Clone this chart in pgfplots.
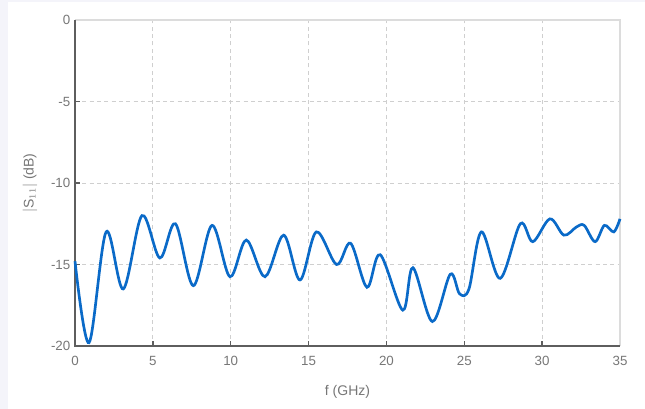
\documentclass[border=0pt]{standalone}
\usepackage{pgfplots}
\pgfplotsset{compat=1.18}
\usepackage{fontspec}
\setmainfont{Liberation Sans}
\definecolor{panelbg}{HTML}{F4F4FA}
\definecolor{spine}{HTML}{5E5E5E}
\definecolor{spinelight}{HTML}{DCDCDC}
\definecolor{gridc}{HTML}{CFCFCF}
\definecolor{ticklab}{HTML}{777777}
\definecolor{curve}{HTML}{0A6AC8}
\begin{document}
\begin{tikzpicture}[x=0.75pt,y=0.75pt]
% page background with a faint frame strip on the left and top
\fill[panelbg] (0,0) rectangle (645,409);
\fill[white] (8,0) rectangle (645,407);
\begin{axis}[
  at={(75*0.75pt,63*0.75pt)}, anchor=south west,
  scale only axis,
  width=545*0.75pt, height=326*0.75pt,
  xmin=0, xmax=35, ymin=-20, ymax=0,
  xtick={0,5,...,35}, ytick={-20,-15,...,0},
  xtick pos=left, ytick pos=left,
  tick align=inside,
  major tick length=4pt,
  tick style={spine, line width=1pt},
  axis line style={draw=none},
  grid=major,
  grid style={gridc, dashed, line width=0.7pt, dash pattern=on 3pt off 2.5pt},
  ticklabel style={font=\fontsize{10}{12}\selectfont, text=ticklab},
  xticklabel style={yshift=-4pt},
  /pgf/number format/assume math mode=true,
  xlabel={f (GHz)},
  ylabel={$|$S$_{11}|$ (dB)},
  label style={font=\fontsize{10.5}{12}\selectfont, text=ticklab},
  xlabel style={yshift=-8pt},
  ylabel style={yshift=3.5pt},
  clip=false,
]
% frame: light top/right, dark left/bottom
\draw[spinelight, line width=1.5pt] (rel axis cs:0,1) -- (rel axis cs:1,1) -- (rel axis cs:1,0);
\draw[spine, line width=2pt] (rel axis cs:0,1) -- (rel axis cs:0,0) -- (rel axis cs:1,0);
\addplot[curve, line width=2pt, smooth, tension=0.55] coordinates {
  (0,-14.8) (0.9,-19.8) (2.0,-13.0) (3.1,-16.5) (4.3,-12.0)
  (5.45,-14.6) (6.45,-12.5) (7.6,-16.3) (8.8,-12.6) (9.95,-15.75)
  (11.0,-13.5) (12.2,-15.75) (13.4,-13.2) (14.45,-15.95) (15.5,-13.0)
  (16.8,-15.0) (17.7,-13.7) (18.75,-16.4) (19.6,-14.4) (21.05,-17.8)
  (21.7,-15.2) (22.95,-18.5) (24.1,-15.6) (24.7,-16.8) (25.3,-16.5)
  (26.1,-13.0) (27.3,-15.85) (28.6,-12.5) (29.4,-13.6) (30.5,-12.2)
  (31.4,-13.2) (32.2,-12.7) (32.7,-12.6) (33.4,-13.6) (34.0,-12.6)
  (34.6,-13.0) (35,-12.2)
};
\end{axis}
\end{tikzpicture}
\end{document}
